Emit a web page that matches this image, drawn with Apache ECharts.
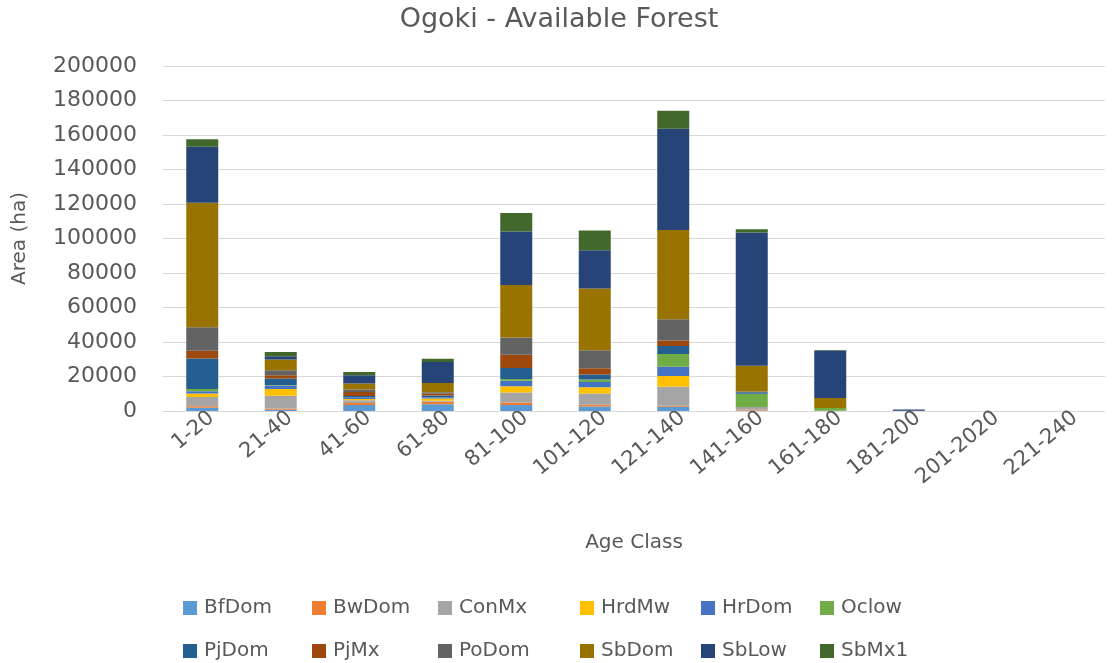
<!DOCTYPE html>
<html>
<head>
<meta charset="utf-8">
<title>Ogoki - Available Forest</title>
<script src="https://cdn.jsdelivr.net/npm/echarts@6/dist/echarts.min.js"></script>
<style>
  html, body { margin: 0; padding: 0; background: #fff; }
  #chart { width: 1118px; height: 663px; }
</style>
</head>
<body>
<div id="chart"></div>
<script>
// age classes on the x axis
var ageClasses = ["1-20", "21-40", "41-60", "61-80", "81-100", "101-120", "121-140", "141-160", "161-180", "181-200", "201-2020", "221-240"];

// area (ha) per forest unit, stacked bottom to top
var BfDom = [1900, 700, 3500, 3900, 3500, 2600, 2500, 300, 0, 0, 0, 0];
var BwDom = [800, 800, 1200, 1500, 1400, 1000, 600, 500, 0, 0, 0, 0];
var ConMx = [5400, 7300, 1500, 600, 5800, 6600, 11000, 1500, 200, 200, 0, 0];
var HrdMw = [2100, 3900, 800, 1200, 3700, 3500, 6200, 0, 0, 0, 0, 0];
var HrDom = [1300, 1900, 800, 600, 3200, 3100, 5400, 0, 0, 0, 0, 0];
var Oclow = [1200, 300, 0, 0, 900, 1500, 7400, 7700, 1500, 0, 0, 0];
var PjDom = [17800, 3900, 900, 1200, 6400, 2800, 4600, 800, 0, 0, 0, 0];
var PjMx = [4400, 1900, 2300, 1000, 7700, 3700, 3100, 0, 0, 0, 0, 0];
var PoDom = [13600, 2900, 1400, 800, 10000, 10400, 12400, 500, 0, 0, 0, 0];
var SbDom = [72200, 6200, 3500, 5400, 30400, 35800, 51800, 14900, 5800, 0, 0, 0];
var SbLow = [32500, 1900, 4800, 12200, 31100, 22200, 58600, 77300, 27600, 600, 0, 0];
var SbMx1 = [4300, 2500, 1900, 1900, 10700, 11400, 10400, 1900, 300, 0, 0, 0];

var seriesNames = ["BfDom", "BwDom", "ConMx", "HrdMw", "HrDom", "Oclow", "PjDom", "PjMx", "PoDom", "SbDom", "SbLow", "SbMx1"];
var seriesData = [BfDom, BwDom, ConMx, HrdMw, HrDom, Oclow, PjDom, PjMx, PoDom, SbDom, SbLow, SbMx1];

// y axis ticks
var yMin = 0;
var yMax = 200000;
var yStep = 20000;

var colors = ["#5b9bd5", "#ed7d31", "#a5a5a5", "#ffc000", "#4472c4", "#70ad47",
              "#255e91", "#9e480e", "#636363", "#997300", "#264478", "#43682b"];

var textColor = "#595959";
var fontName = "DejaVu Sans";

var myChart = echarts.init(document.getElementById("chart"), null, { renderer: "canvas" });

// legend: two rows of six, laid out like the Excel one
var legendCols = [183, 312, 438, 580, 701, 820];
var legendRows = [598, 641];
var legends = seriesNames.map(function(name, i) {
  return {
    left: legendCols[i % 6],
    top: legendRows[Math.floor(i / 6)],
    data: [name],
    itemWidth: 14,
    itemHeight: 14,
    itemGap: 0,
    icon: "rect",
    padding: 0,
    selectedMode: false,
    textStyle: { color: textColor, fontSize: 20, fontFamily: fontName, padding: [0, 0, 0, 2] }
  };
});

var series = seriesNames.map(function(name, i) {
  return {
    name: name,
    type: "bar",
    stack: "area",
    data: seriesData[i],
    barWidth: 32,
    itemStyle: { color: colors[i] }
  };
});

var option = {
  animation: false,
  color: colors,
  title: {
    text: "Ogoki - Available Forest",
    left: "center",
    top: 1,
    textStyle: { color: textColor, fontSize: 27, fontWeight: "normal", fontFamily: fontName }
  },
  legend: legends,
  grid: {
    left: 163,
    right: 13,
    top: 66,
    bottom: 252,
    containLabel: false
  },
  xAxis: {
    type: "category",
    data: ageClasses,
    name: "Age Class",
    nameLocation: "middle",
    nameGap: 122,
    nameTextStyle: { color: textColor, fontSize: 20, fontFamily: fontName },
    axisLine: { lineStyle: { color: "#d9d9d9" } },
    axisTick: { show: false },
    axisLabel: {
      rotate: 40,
      interval: 0,
      margin: 12,
      color: textColor,
      fontSize: 21,
      fontFamily: fontName,
      padding: [0, -12, 0, 0]
    }
  },
  yAxis: {
    type: "value",
    min: yMin,
    max: yMax,
    interval: yStep,
    name: "Area (ha)",
    nameLocation: "middle",
    nameGap: 133,
    nameTextStyle: { color: textColor, fontSize: 20, fontFamily: fontName },
    axisLine: { show: false },
    axisTick: { show: false },
    splitLine: { lineStyle: { color: "#d9d9d9", width: 1 } },
    axisLabel: {
      margin: 26,
      color: textColor,
      fontSize: 22,
      fontFamily: fontName,
      formatter: function(v) { return String(v); }
    }
  },
  series: series
};

myChart.setOption(option);
</script>
</body>
</html>
